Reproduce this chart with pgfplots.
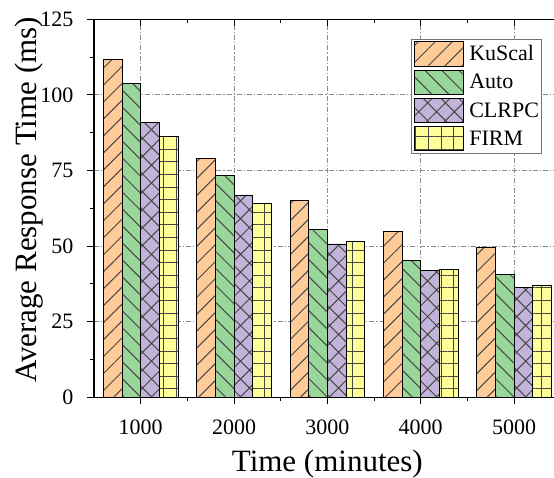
\documentclass[border=0pt]{standalone}
\usepackage{fontspec}
\setmainfont{Liberation Serif}
\usepackage{pgfplots}
\pgfplotsset{compat=1.18}
\usetikzlibrary{patterns.meta}
\definecolor{cK}{RGB}{255,204,153}
\definecolor{cA}{RGB}{153,214,153}
\definecolor{cC}{RGB}{194,180,216}
\definecolor{cF}{RGB}{255,255,153}
\definecolor{hatchc}{RGB}{70,70,70}
\pgfplotsset{
  mylegend/.style={legend image code/.code={\draw[##1] (0pt,-12.1pt) rectangle (49pt,12.1pt);}},
}
\tikzset{
  pK/.style={pattern={Lines[angle=45,distance=12pt,line width=1pt]}, pattern color=hatchc},
  pA/.style={pattern={Lines[angle=-45,distance=12pt,line width=1pt]}, pattern color=hatchc},
  pC/.style={pattern={Hatch[angle=45,distance=12.6pt,line width=1pt]}, pattern color=hatchc},
  pF/.style={pattern={Hatch[angle=0,distance=12.6pt,line width=1pt]}, pattern color=hatchc},
}
\begin{document}
\begin{tikzpicture}
\begin{axis}[
  name=ax,
  scale only axis, width=466.7pt, height=378pt,
  xmin=0.5, xmax=5.5, ymin=0, ymax=125,
  xtick={1,2,3,4,5}, xticklabels={1000,2000,3000,4000,5000},
  minor x tick num=1,
  ytick={0,25,50,75,100,125}, minor y tick num=1,
  tick align=outside, xtick pos=left, ytick pos=left,
  major tick length=7pt, minor tick length=3.5pt,
  axis line style={line width=1.1pt, black},
  every tick/.style={black, line width=1pt},
  grid=major,
  major grid style={color=black!45, line width=0.8pt, dash pattern=on 5pt off 2pt on 1.2pt off 2pt},
  /pgf/number format/assume math mode=true,
  tick label style={font=\fontsize{22}{26}\selectfont},
  yticklabel style={anchor=east, inner sep=0pt, xshift=-13.3pt},
  xticklabel style={anchor=base, yshift=-30.4pt},
  xlabel={Time (minutes)},
  ylabel={Average Response Time (ms)},
  label style={font=\fontsize{31}{36}\selectfont},
  xlabel style={at={(axis description cs:0.5,-0.1963)}, anchor=base},
  ylabel style={at={(axis description cs:-0.1393,0.522)}, anchor=center, rotate=0},
  ybar, bar width=0.2,
  legend style={at={(axis description cs:0.9593,0.9488)}, anchor=north east,
    draw=black!55, line width=0.8pt, fill=white,
    inner xsep=2.3pt, inner ysep=2.3pt,
    font=\fontsize{22}{24}\selectfont,
    row sep=3.2pt,
    cells={anchor=west},
    nodes={inner sep=0pt},
    /tikz/every odd column/.append style={column sep=5.7pt}},
]
\addplot[mylegend, bar shift=-0.3, draw=black, line width=0.9pt, fill=cK, postaction={pK}]
  coordinates {(1,111.8) (2,79.0) (3,65.2) (4,54.8) (5,49.5)};
\addlegendentry{KuScal}
\addplot[mylegend, bar shift=-0.1, draw=black, line width=0.9pt, fill=cA, postaction={pA}]
  coordinates {(1,103.7) (2,73.4) (3,55.4) (4,45.4) (5,40.5)};
\addlegendentry{Auto}
\addplot[mylegend, bar shift=0.1, draw=black, line width=0.9pt, fill=cC, postaction={pC}]
  coordinates {(1,91.0) (2,66.9) (3,50.7) (4,41.9) (5,36.4)};
\addlegendentry{CLRPC}
\addplot[mylegend, bar shift=0.3, draw=black, line width=0.9pt, fill=cF, postaction={pF}]
  coordinates {(1,86.2) (2,64.1) (3,51.4) (4,42.4) (5,36.9)};
\addlegendentry{FIRM}
\end{axis}
\begin{axis}[
  scale only axis, width=466.7pt, height=378pt,
  xmin=0.5, xmax=5.5, ymin=0, ymax=125,
  xtick={1,2,3,4,5}, xticklabels={}, minor x tick num=1,
  ytick=\empty, xtick pos=right, tick align=inside,
  major tick length=7pt, minor tick length=3.5pt,
  axis line style={line width=1.1pt, black},
  every tick/.style={black, line width=1pt},
]
\end{axis}
\pgfresetboundingbox
\path[use as bounding box] ([shift={(-94pt,-79.7pt)}]ax.south west) rectangle ([shift={(460pt,397.3pt)}]ax.south west);
\end{tikzpicture}
\end{document}
